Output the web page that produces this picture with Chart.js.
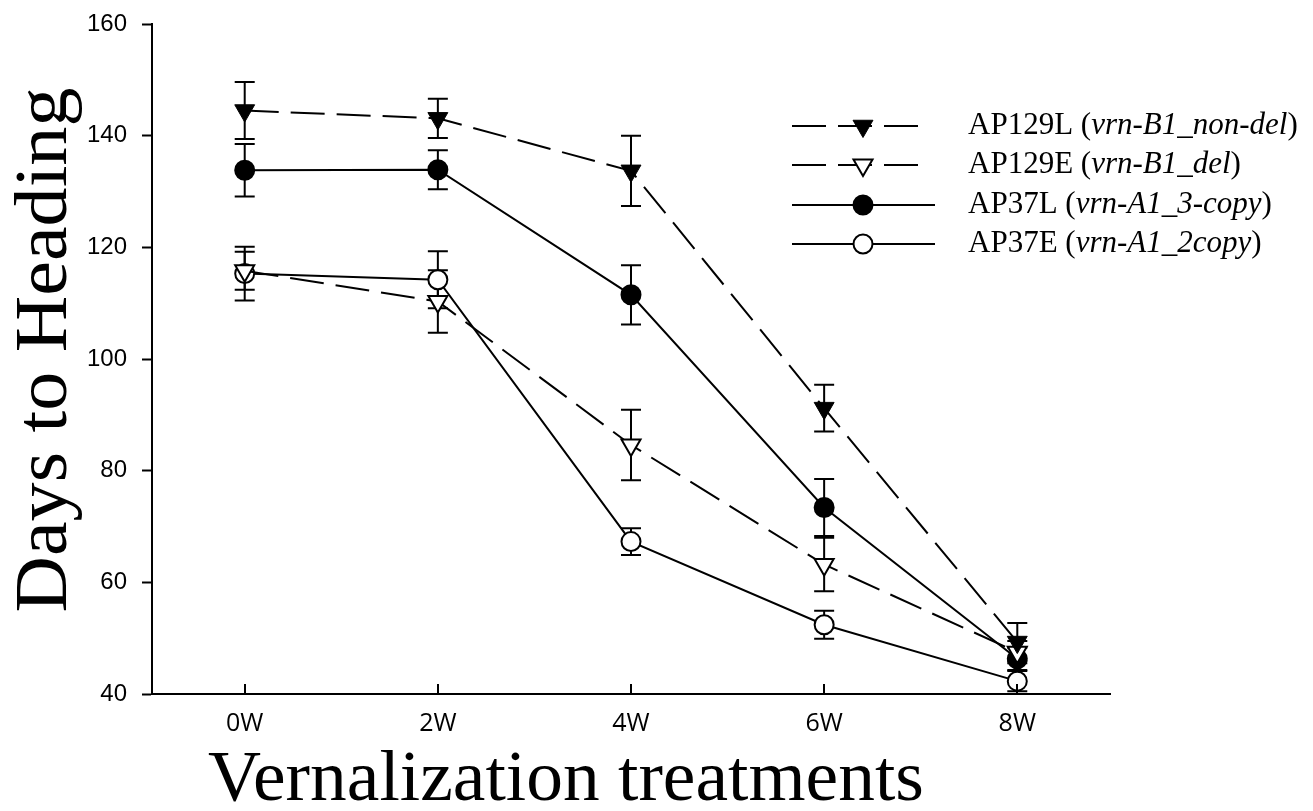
<!doctype html>
<html>
<head>
<meta charset="utf-8" />
<title>Days to Heading</title>
<script src="https://cdn.jsdelivr.net/npm/chart.js@4.4.1/dist/chart.umd.min.js"></script>
<style>
	html, body { margin: 0; padding: 0; background: #fff; }
	canvas { display: block; }
</style>
</head>
<body>
<canvas id="chart" width="1313" height="811"></canvas>
<script>
	// data
	const categories = ["0W", "2W", "4W", "6W", "8W"];
	const yTicks = [40, 60, 80, 100, 120, 140, 160];

	const ap129L = [144.5, 143.1, 133.7, 91.2, 49.3];
	const ap129LErr = [5.1, 3.5, 6.3, 4.2, 3.4];
	const ap129E = [115.8, 110.3, 84.6, 63.2, 47.5];
	const ap129EErr = [3.4, 5.6, 6.3, 4.8, 2.0];
	const ap37L = [133.8, 133.9, 111.5, 73.4, 46.3];
	const ap37LErr = [4.7, 3.5, 5.3, 5.1, 2.0];
	const ap37E = [115.3, 114.2, 67.3, 52.4, 42.3];
	const ap37EErr = [4.8, 5.1, 2.4, 2.5, 1.8];

	const legendName = ["AP129L (", "AP129E (", "AP37L (", "AP37E ("];
	const legendItalic = ["vrn-B1_non-del", "vrn-B1_del", "vrn-A1_3-copy", "vrn-A1_2copy"];

	const xTitle = "Vernalization treatments";
	const yTitle = "Days to Heading";

	const DASH = [34, 12];

	function points(values) {
		return values.map((v, i) => ({ x: i, y: v }));
	}

	function series(label, values, errors, style) {
		return Object.assign({
			label: label,
			data: points(values),
			errors: errors,
			borderColor: "#000",
			borderWidth: 2,
			pointBorderColor: "#000",
			pointBorderWidth: 2,
			pointHoverRadius: 0,
			tension: 0,
			fill: false,
		}, style);
	}

	const datasets = [
		series(legendName[0], ap129L, ap129LErr, {
			borderDash: DASH, pointStyle: "triangle", pointRotation: 180,
			pointRadius: 11.5, pointBackgroundColor: "#000", pointBorderWidth: 1,
		}),
		series(legendName[1], ap129E, ap129EErr, {
			borderDash: DASH, pointStyle: "triangle", pointRotation: 180,
			pointRadius: 11, pointBackgroundColor: "#fff",
		}),
		series(legendName[2], ap37L, ap37LErr, {
			pointStyle: "circle", pointRadius: 9.5, pointBackgroundColor: "#000",
		}),
		series(legendName[3], ap37E, ap37EErr, {
			pointStyle: "circle", pointRadius: 9.5, pointBackgroundColor: "#fff",
		}),
	];

	// error bars, under the markers
	const errorBars = {
		id: "errorBars",
		beforeDatasetsDraw(chart) {
			const ctx = chart.ctx, y = chart.scales.y;
			ctx.save();
			ctx.strokeStyle = "#000";
			ctx.lineWidth = 2;
			ctx.setLineDash([]);
			chart.data.datasets.forEach((ds, di) => {
				const meta = chart.getDatasetMeta(di);
				meta.data.forEach((pt, i) => {
					const v = ds.data[i].y, e = ds.errors[i];
					const top = y.getPixelForValue(v + e), bot = y.getPixelForValue(v - e);
					ctx.beginPath();
					ctx.moveTo(pt.x, top); ctx.lineTo(pt.x, bot);
					ctx.moveTo(pt.x - 10, top); ctx.lineTo(pt.x + 10, top);
					ctx.moveTo(pt.x - 10, bot); ctx.lineTo(pt.x + 10, bot);
					ctx.stroke();
				});
			});
			ctx.restore();
		},
	};

	function drawMarker(ctx, ds, x, y) {
		ctx.fillStyle = ds.pointBackgroundColor;
		ctx.strokeStyle = ds.pointBorderColor;
		ctx.lineWidth = ds.pointBorderWidth;
		ctx.setLineDash([]);
		Chart.helpers.drawPoint(ctx, {
			pointStyle: ds.pointStyle,
			rotation: ds.pointRotation || 0,
			radius: ds.pointRadius,
			borderWidth: ds.pointBorderWidth,
		}, x, y);
	}

	// titles, inward x ticks and legend
	const decorations = {
		id: "decorations",
		afterDraw(chart) {
			const ctx = chart.ctx, area = chart.chartArea, xs = chart.scales.x;
			ctx.save();

			ctx.strokeStyle = "#000";
			ctx.lineWidth = 2;
			categories.forEach((c, i) => {
				const px = Math.round(xs.getPixelForValue(i));
				ctx.beginPath();
				ctx.moveTo(px, area.bottom);
				ctx.lineTo(px, area.bottom - 10);
				ctx.stroke();
			});

			ctx.fillStyle = "#000";
			ctx.font = '72px "Liberation Serif"';
			ctx.textAlign = "center";
			ctx.textBaseline = "alphabetic";
			ctx.save();
			ctx.translate(566, 800);
			ctx.scale(1.02, 1);
			ctx.fillText(xTitle, 0, 0);
			ctx.restore();

			ctx.save();
			ctx.font = '73px "Liberation Serif"';
			ctx.translate(66, 350);
			ctx.rotate(-Math.PI / 2);
			ctx.scale(1.07, 1);
			ctx.fillText(yTitle, 0, 0);
			ctx.restore();

			// legend
			const rowY = [126, 165, 205, 244];
			chart.data.datasets.forEach((ds, i) => {
				const y = rowY[i];
				ctx.strokeStyle = "#000";
				ctx.lineWidth = 2;
				ctx.beginPath();
				if (ds.borderDash) {
					ctx.setLineDash(ds.borderDash);
					ctx.moveTo(792, y); ctx.lineTo(921, y);
				} else {
					ctx.setLineDash([]);
					ctx.moveTo(792, y); ctx.lineTo(935, y);
				}
				ctx.stroke();
				drawMarker(ctx, ds, 863, y);

				ctx.fillStyle = "#000";
				ctx.textAlign = "left";
				ctx.textBaseline = "middle";
				let tx = 968;
				ctx.font = '31px "Liberation Serif"';
				ctx.fillText(legendName[i], tx, y);
				tx += ctx.measureText(legendName[i]).width;
				ctx.font = 'italic 31px "Liberation Serif"';
				ctx.fillText(legendItalic[i], tx, y);
				tx += ctx.measureText(legendItalic[i]).width;
				ctx.font = '31px "Liberation Serif"';
				ctx.fillText(")", tx, y);
			});
			ctx.restore();
		},
	};

	new Chart(document.getElementById("chart"), {
		type: "line",
		data: { datasets: datasets },
		plugins: [errorBars, decorations],
		options: {
			responsive: false,
			animation: false,
			events: [],
			layout: { padding: { top: 24, right: 203, left: 0, bottom: 0 } },
			plugins: { legend: { display: false }, tooltip: { enabled: false } },
			scales: {
				x: {
					type: "linear",
					min: -0.48,
					max: 4.48,
					afterFit: (s) => { s.height = 117; },
					afterBuildTicks: (s) => { s.ticks = categories.map((c, i) => ({ value: i })); },
					grid: { display: false, drawTicks: false },
					border: { display: true, color: "#000", width: 2 },
					ticks: {
						callback: (v) => categories[v],
						color: "#000",
						padding: 15,
						maxRotation: 0,
						font: { family: "Open Sans", size: 25 },
					},
				},
				y: {
					min: 40,
					max: 160,
					afterFit: (s) => { s.width = 152; s.paddingTop = 0; s.paddingBottom = 0; },
					afterBuildTicks: (s) => { s.ticks = yTicks.map((v) => ({ value: v })); },
					grid: { drawOnChartArea: false, tickLength: 10, tickWidth: 2, tickColor: "#000" },
					border: { display: true, color: "#000", width: 2 },
					ticks: {
						color: "#000",
						padding: 15,
						font: { family: "Liberation Sans", size: 24, lineHeight: 0.8 },
					},
				},
			},
		},
	});
</script>
</body>
</html>
